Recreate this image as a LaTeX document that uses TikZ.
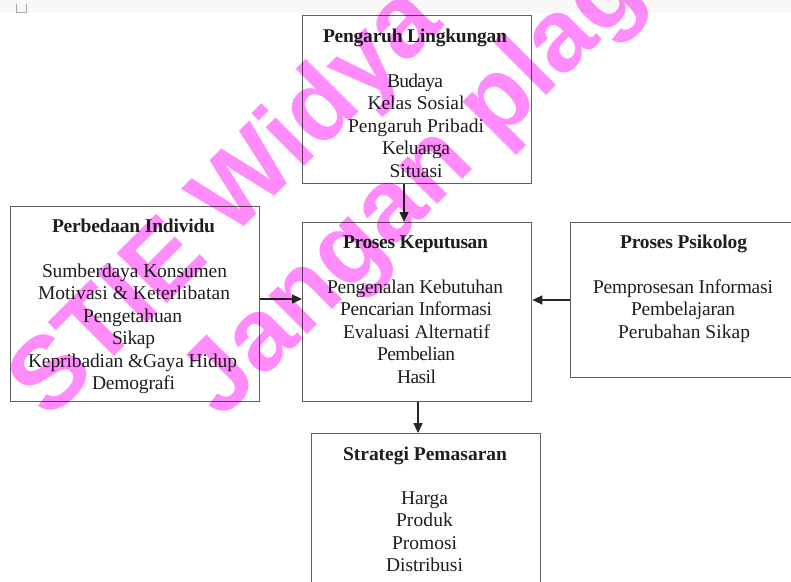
\documentclass[tikz,border=0pt]{standalone}
\usepackage{fontspec}
\setmainfont{Liberation Serif}
\newfontfamily\wmfont{Liberation Sans}
\usetikzlibrary{arrows.meta}
\definecolor{txt}{RGB}{30,30,30}
\definecolor{boxc}{RGB}{95,95,95}
\definecolor{wm}{RGB}{255,140,250}
\definecolor{band}{RGB}{248,248,248}
\newlength\fitwa
\newlength\fitwb
\newcommand\fitto[2]{\settowidth\fitwa{#2}\settowidth\fitwb{\addfontfeature{LetterSpace=10}#2}%
  \pgfmathsetmacro\fitls{10*(#1-\fitwa)/(\fitwb-\fitwa)}{\addfontfeature{LetterSpace=\fitls}#2}}
\tikzset{
  bx/.style={draw=boxc, line width=1.3pt, anchor=north west, inner sep=0pt},
  ln/.style={anchor=base, inner sep=0pt, text=txt, font=\fontsize{19.5}{22.5}\selectfont},
  ttl/.style={ln, font=\fontsize{19.5}{22.5}\selectfont\bfseries},
  arr/.style={draw=black!85, line width=1.3pt, -{Triangle[length=10pt,width=9pt]}},
  wmk/.style={anchor=base west, inner sep=0pt, text=wm, rotate=45, font=\wmfont\fontsize{103}{103}\selectfont\bfseries}
}
\begin{document}
\begin{tikzpicture}[x=1pt,y=-1pt]
\useasboundingbox (0,0) rectangle (791,581);
\clip (0,0) rectangle (791,581);
\fill[band] (0,0) rectangle (791,13);
\draw[gray!70, line width=0.8pt] (16,4) -- (16,12) -- (26,12) -- (26,4);
% boxes
\node (b1) [bx, minimum width=229pt, minimum height=168pt] at (302,15) {};
\node (b2) [bx, minimum width=249pt, minimum height=195pt] at (10,206) {};
\node (b3) [bx, minimum width=229pt, minimum height=179pt] at (302,222) {};
\node (b4) [bx, minimum width=240pt, minimum height=155pt] at (570,222) {};
\node (b5) [bx, minimum width=229pt, minimum height=180pt] at (311,433) {};
% box 1
\node (t1) [ttl] at (415,42) {\fitto{184}{Pengaruh Lingkungan}};
\node (t1a) [ln] at (415,87) {\fitto{56}{Budaya}};
\node (t1b) [ln] at (416,109.5) {\fitto{97}{Kelas Sosial}};
\node (t1c) [ln] at (416,132) {\fitto{136}{Pengaruh Pribadi}};
\node (t1d) [ln] at (416,154.5) {\fitto{68}{Keluarga}};
\node (t1e) [ln] at (416,177) {\fitto{53}{Situasi}};
% box 2
\node (t2) [ttl] at (133.5,232) {\fitto{163}{Perbedaan Individu}};
\node (t2a) [ln] at (134.5,277) {\fitto{185}{Sumberdaya Konsumen}};
\node (t2b) [ln] at (134,299.5) {\fitto{192}{Motivasi \& Keterlibatan}};
\node (t2c) [ln] at (132.5,322) {\fitto{99}{Pengetahuan}};
\node (t2d) [ln] at (133.5,344.5) {\fitto{43}{Sikap}};
\node (t2e) [ln] at (132.5,367) {\fitto{209}{Kepribadian \&Gaya Hidup}};
\node (t2f) [ln] at (133.5,389.5) {\fitto{83}{Demografi}};
% box 3
\node (t3) [ttl] at (415.5,248) {\fitto{145}{Proses Keputusan}};
\node (t3a) [ln] at (415,293) {\fitto{176}{Pengenalan Kebutuhan}};
\node (t3b) [ln] at (416,315.5) {\fitto{152}{Pencarian Informasi}};
\node (t3c) [ln] at (416.5,338) {\fitto{147}{Evaluasi Alternatif}};
\node (t3d) [ln] at (416,360.5) {\fitto{78}{Pembelian}};
\node (t3e) [ln] at (416.5,383) {\fitto{39}{Hasil}};
% box 4
\node (t4) [ttl] at (683.5,248) {\fitto{127}{Proses Psikolog}};
\node (t4a) [ln] at (683,293) {\fitto{180}{Pemprosesan Informasi}};
\node (t4b) [ln] at (683,315.5) {\fitto{104}{Pembelajaran}};
\node (t4c) [ln] at (684,338) {\fitto{132}{Perubahan Sikap}};
% box 5
\node (t5) [ttl] at (425,460) {\fitto{164}{Strategi Pemasaran}};
\node (t5a) [ln] at (424.5,504) {\fitto{47}{Harga}};
\node (t5b) [ln] at (424.5,526.5) {\fitto{57}{Produk}};
\node (t5c) [ln] at (424.5,549) {\fitto{65}{Promosi}};
\node (t5d) [ln] at (424.5,571.5) {\fitto{77}{Distribusi}};
% arrows
\coordinate (ya) at (0,299);
\coordinate (yb) at (0,300);
\coordinate (xa) at (404,0);
\coordinate (xb) at (418,0);
\draw[arr] (b1.south -| xa) -- (b3.north -| xa);
\draw[arr] (b2.east |- ya) -- (b3.west |- ya);
\draw[arr] (b4.west |- yb) -- (b3.east |- yb);
\draw[arr] (b3.south -| xb) -- (b5.north -| xb);
% watermark
\begin{scope}[blend mode=multiply]
\node (w1) [wmk] at (49,422) {STIE Widya Wiwaha};
\node (w2) [wmk] at (221.6,420.4) {Jangan plagiat};
\end{scope}
\end{tikzpicture}
\end{document}
